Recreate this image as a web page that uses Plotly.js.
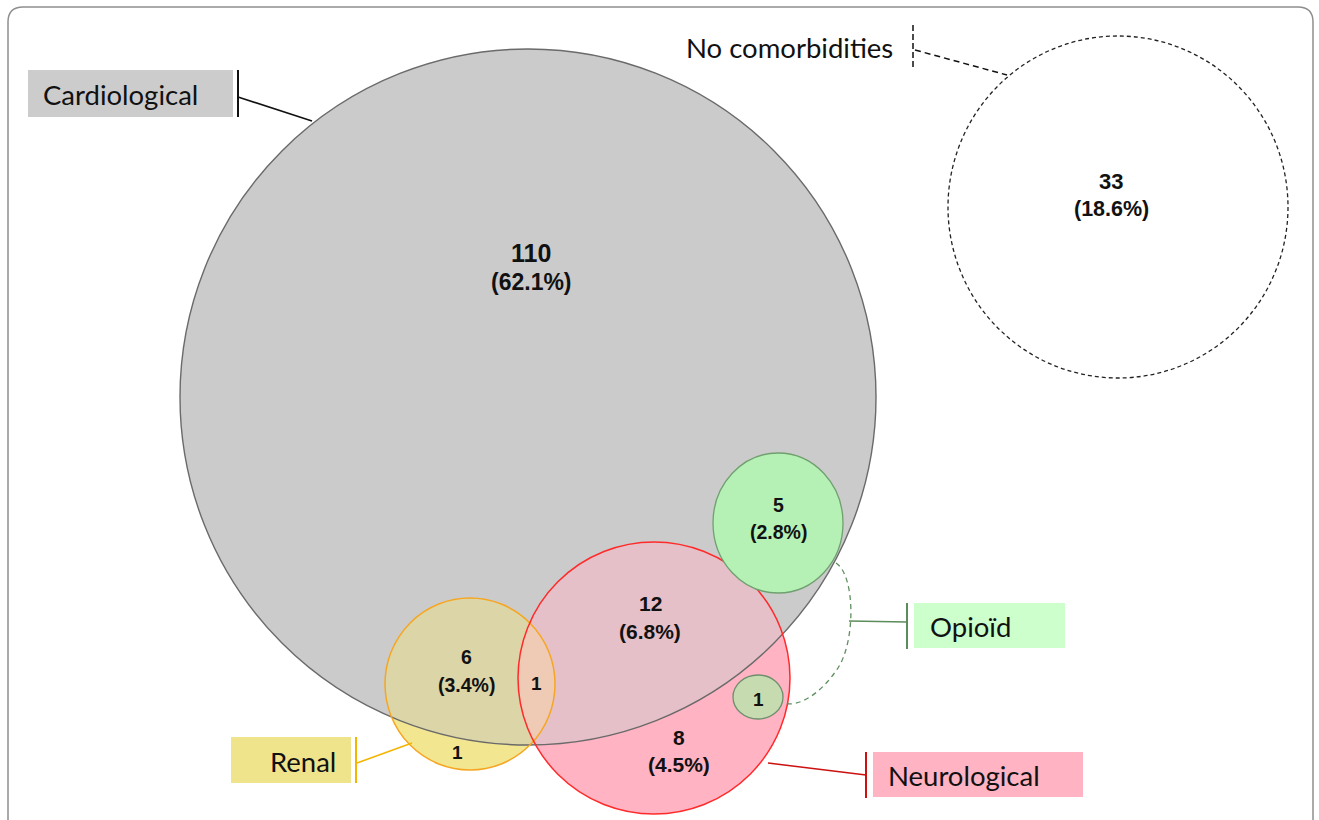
<!DOCTYPE html>
<html>
<head>
<meta charset="utf-8">
<script src="https://cdn.plot.ly/plotly-3.0.1.min.js"></script>
<style>html,body{margin:0;padding:0;background:#fff;}#chart{width:1319px;height:820px;}</style>
</head>
<body>
<div id="chart"></div>
<script>
// ---------- data ----------
const setNames = ['Cardiological', 'Neurological', 'Renal', 'Opioïd', 'No comorbidities'];
const regionNames = ['Cardiological only', 'No comorbidities', 'Cardio+Neuro', 'Neuro only', 'Cardio+Renal',
                     'Cardio+Opioid', 'Cardio+Renal+Neuro', 'Renal only', 'Neuro+Opioid'];
const regionCounts = [110, 33, 12, 8, 6, 5, 1, 1, 1];
const regionPercents = ['62.1', '18.6', '6.8', '4.5', '3.4', '2.8', null, null, null];

// ---------- layout geometry (pixel-like data units) ----------
const GEO = {
  card:  {cx: 528,  cy: 397, rx: 348, ry: 348},
  none:  {cx: 1118, cy: 207, rx: 170, ry: 171},
  neuro: {cx: 654,  cy: 678, rx: 136, ry: 136},
  renal: {cx: 470,  cy: 684, rx: 85,  ry: 86},
  opi:   {cx: 778,  cy: 523, rx: 65,  ry: 70},
  opi2:  {cx: 758,  cy: 697, rx: 25,  ry: 22}
};
const regionPos = [
  {x: 531, y: 253, y2: 282, fs: 25, fs2: 23},
  {x: 1111, y: 181, y2: 209, fs: 22, fs2: 21.5},
  {x: 650, y: 603, y2: 631, fs: 21, fs2: 21},
  {x: 679, y: 737, y2: 764, fs: 21, fs2: 21},
  {x: 466, y: 657, y2: 685, fs: 19.5, fs2: 19.5},
  {x: 778, y: 505, y2: 532, fs: 19.5, fs2: 19.5},
  {x: 536, y: 683, fs: 19},
  {x: 457, y: 752, fs: 19},
  {x: 758, y: 699, fs: 19}
];

// ---------- geometry helpers ----------
function poly(c, n) {
  n = n || 360;
  const pts = [];
  for (let i = 0; i < n; i++) {
    const t = 2 * Math.PI * i / n;
    pts.push([c.cx + c.rx * Math.cos(t), c.cy + c.ry * Math.sin(t)]);
  }
  return pts;
}
function clip(subject, clipper) {
  let out = subject;
  for (let i = 0; i < clipper.length; i++) {
    const a = clipper[i], b = clipper[(i + 1) % clipper.length];
    const inside = p => (b[0] - a[0]) * (p[1] - a[1]) - (b[1] - a[1]) * (p[0] - a[0]) >= 0;
    const inter = (p, q) => {
      const x1 = p[0], y1 = p[1], x2 = q[0], y2 = q[1];
      const x3 = a[0], y3 = a[1], x4 = b[0], y4 = b[1];
      const d = (x1 - x2) * (y3 - y4) - (y1 - y2) * (x3 - x4);
      const t = ((x1 - x3) * (y3 - y4) - (y1 - y3) * (x3 - x4)) / d;
      return [x1 + t * (x2 - x1), y1 + t * (y2 - y1)];
    };
    const inp = out; out = [];
    if (!inp.length) break;
    for (let j = 0; j < inp.length; j++) {
      const cur = inp[j], prev = inp[(j + inp.length - 1) % inp.length];
      if (inside(cur)) {
        if (!inside(prev)) out.push(inter(prev, cur));
        out.push(cur);
      } else if (inside(prev)) out.push(inter(prev, cur));
    }
  }
  return out;
}
function pathOf(pts) {
  return 'M ' + pts.map(p => p[0].toFixed(2) + ',' + p[1].toFixed(2)).join(' L ') + ' Z';
}
function fillShape(pts, color) {
  return {type: 'path', xref: 'x', yref: 'y', path: pathOf(pts), fillcolor: color, line: {width: 0}, layer: 'above'};
}
function ell(c, fill, lineColor, width, dash) {
  return {type: 'circle', xref: 'x', yref: 'y', x0: c.cx - c.rx, x1: c.cx + c.rx, y0: c.cy - c.ry, y1: c.cy + c.ry,
          fillcolor: fill, line: {color: lineColor, width: width, dash: dash || 'solid'}};
}
function seg(x0, y0, x1, y1, color, width, dash) {
  return {type: 'line', xref: 'x', yref: 'y', x0: x0, y0: y0, x1: x1, y1: y1, line: {color: color, width: width, dash: dash || 'solid'}};
}
function rect(x0, y0, x1, y1, color) {
  return {type: 'rect', xref: 'x', yref: 'y', x0: x0, y0: y0, x1: x1, y1: y1, fillcolor: color, line: {width: 0}};
}

const P = {};
Object.keys(GEO).forEach(k => P[k] = poly(GEO[k]));
const cardNeuro = clip(P.neuro, P.card);
const cardRenal = clip(P.renal, P.card);
const renalNeuro = clip(P.renal, P.neuro);
const triple = clip(cardRenal, P.neuro);

const shapes = [
  // frame
  {type: 'path', xref: 'x', yref: 'y', path: 'M 8,840 L 8,22 Q 8,7 23,7 L 1298,7 Q 1313,7 1313,22 L 1313,840',
   line: {color: '#8e8e8e', width: 1.5}, fillcolor: 'rgba(0,0,0,0)'},
  // region fills
  fillShape(P.card, '#cbcbcb'),
  fillShape(P.neuro, '#ffb3c3'),
  fillShape(cardNeuro, '#e5c0c8'),
  fillShape(P.renal, '#f3e690'),
  fillShape(cardRenal, '#dcd5a8'),
  fillShape(renalNeuro, '#f6c6ac'),
  fillShape(triple, '#efcab5'),
  // outlines
  ell(GEO.card, 'rgba(0,0,0,0)', '#6a6a6a', 1.4),
  ell(GEO.renal, 'rgba(0,0,0,0)', '#f5a623', 1.5),
  ell(GEO.neuro, 'rgba(0,0,0,0)', '#ff2a2a', 1.5),
  ell(GEO.opi, '#b5f0b5', '#70a070', 1.3),
  ell(GEO.opi2, '#c6dcb0', '#6e8e6e', 1.3),
  ell(GEO.none, '#ffffff', '#222222', 1.3, '4px,3px'),
  // opioid dashed connector
  {type: 'path', xref: 'x', yref: 'y', path: 'M 836,563 C 855,575 856,640 838,668 C 822,692 800,708 783,703',
   line: {color: '#5f8f5f', width: 1.3, dash: '5px,4px'}, fillcolor: 'rgba(0,0,0,0)'},
  // label boxes
  rect(28, 70, 233, 117, '#cccccc'),
  rect(231, 737, 351, 783, '#efe48c'),
  rect(914, 603, 1065, 648, '#ccffcc'),
  rect(873, 752, 1083, 797, '#ffb3c3'),
  // leaders
  seg(238, 70, 238, 117, '#111111', 2),
  seg(238, 97, 312, 121, '#111111', 1.6),
  seg(356, 737, 356, 783, '#f5b400', 2),
  seg(357, 763, 412, 743, '#f5b400', 1.6),
  seg(907, 603, 907, 649, '#5b8c5b', 2),
  seg(849, 621, 907, 622, '#5b8c5b', 1.6),
  seg(866, 752, 866, 798, '#cc1111', 2),
  seg(768, 763, 866, 775, '#cc1111', 1.6),
  seg(913, 25, 913, 69, '#111111', 1.5, '6px,3px'),
  seg(915, 50, 1007, 75, '#111111', 1.5, '6px,4px')
];

const numFont = 'Liberation Sans, Arial, sans-serif';
const annotations = [];
regionCounts.forEach((v, i) => {
  const p = regionPos[i];
  annotations.push({x: p.x, y: p.y, xref: 'x', yref: 'y', text: '<b>' + v + '</b>', showarrow: false,
    xanchor: 'center', yanchor: 'middle', font: {family: numFont, size: p.fs, color: '#111'}});
  if (regionPercents[i] !== null) {
    annotations.push({x: p.x, y: p.y2, xref: 'x', yref: 'y', text: '<b>(' + regionPercents[i] + '%)</b>', showarrow: false,
      xanchor: 'center', yanchor: 'middle', font: {family: numFont, size: p.fs2, color: '#111'}});
  }
});
const labFont = {family: 'Lato, Open Sans, sans-serif', size: 27.5, color: '#111'};
const labelPos = [
  {x: 41, y: 94, anchor: 'left'},
  {x: 886, y: 775, anchor: 'left'},
  {x: 338, y: 761, anchor: 'right'},
  {x: 928, y: 626, anchor: 'left'},
  {x: 684, y: 47, anchor: 'left'}
];
setNames.forEach((s, i) => {
  const p = labelPos[i];
  annotations.push({x: p.x, y: p.y, xref: 'x', yref: 'y', text: s, showarrow: false,
    xanchor: p.anchor, yanchor: 'middle', font: labFont});
});

const layout = {
  width: 1319, height: 820,
  margin: {l: 0, r: 0, t: 0, b: 0, pad: 0},
  paper_bgcolor: '#ffffff', plot_bgcolor: '#ffffff',
  xaxis: {range: [0, 1319], visible: false, fixedrange: true},
  yaxis: {range: [820, 0], visible: false, fixedrange: true},
  showlegend: false,
  shapes: shapes,
  annotations: annotations
};
Plotly.newPlot('chart', [], layout, {staticPlot: true, displayModeBar: false});
</script>
</body>
</html>
